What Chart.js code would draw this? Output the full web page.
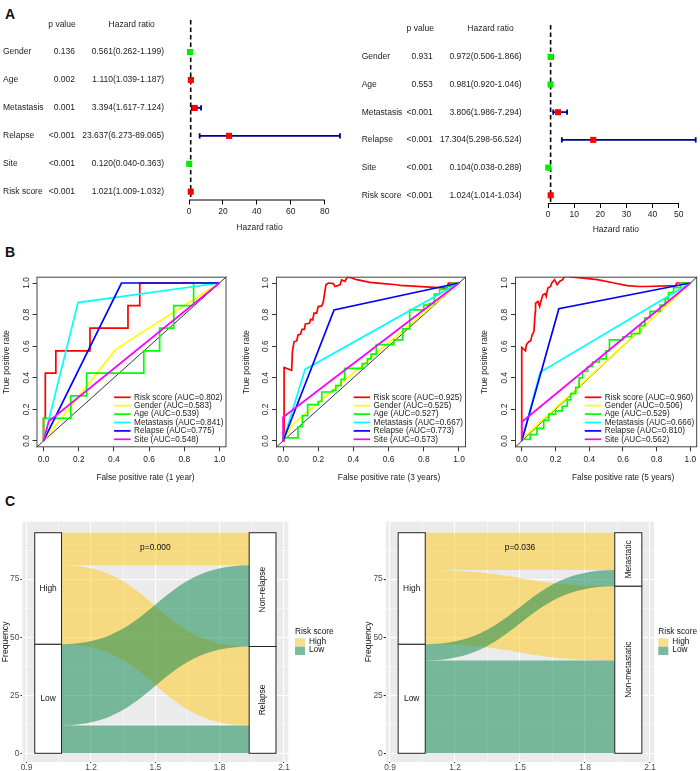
<!DOCTYPE html>
<html>
<head>
<meta charset="utf-8">
<title>Cox regression, ROC and alluvial plots</title>
<script src="https://cdn.jsdelivr.net/npm/chart.js@4.4.1/dist/chart.umd.min.js"></script>
<style>
  body { margin: 0; width: 700px; height: 771px; position: relative; overflow: hidden; background: #fff; font-family: "Liberation Sans", Arial, sans-serif; }
  canvas { position: absolute; }
  .tag { position: absolute; font-size: 14px; line-height: 14px; font-weight: bold; color: #111; }
</style>
</head>
<body>
<div class="tag" style="left:5px;top:7px">A</div>
<div class="tag" style="left:5px;top:245px">B</div>
<div class="tag" style="left:5px;top:494px">C</div>
<canvas id="forestUni" width="350" height="240" style="left:0;top:0"></canvas>
<canvas id="forestMulti" width="350" height="240" style="left:350px;top:0"></canvas>
<canvas id="roc1" width="240" height="250" style="left:0;top:240px"></canvas>
<canvas id="roc3" width="240" height="250" style="left:235px;top:240px"></canvas>
<canvas id="roc5" width="230" height="250" style="left:470px;top:240px"></canvas>
<canvas id="alluvRelapse" width="350" height="281" style="left:0;top:490px"></canvas>
<canvas id="alluvMeta" width="350" height="281" style="left:350px;top:490px"></canvas>
<script>
const FONT = '"Liberation Sans", Arial, sans-serif';
Chart.defaults.font.family = FONT;
Chart.defaults.color = '#222';

// A - cox regression, univariate (left) and multivariate (right)
const coxVars = ['Gender', 'Age', 'Metastasis', 'Relapse', 'Site', 'Risk score'];
const uniP = ['0.136', '0.002', '0.001', '<0.001', '<0.001', '<0.001'];
const uniHR = [0.561, 1.110, 3.394, 23.637, 0.120, 1.021];
const uniLo = [0.262, 1.039, 1.617, 6.273, 0.040, 1.009];
const uniHi = [1.199, 1.187, 7.124, 89.065, 0.363, 1.032];
const uniTicks = [0, 20, 40, 60, 80];
const multiP = ['0.931', '0.553', '<0.001', '<0.001', '<0.001', '<0.001'];
const multiHR = [0.972, 0.981, 3.806, 17.304, 0.104, 1.024];
const multiLo = [0.506, 0.920, 1.986, 5.298, 0.038, 1.014];
const multiHi = [1.866, 1.046, 7.294, 56.524, 0.289, 1.034];
const multiTicks = [0, 10, 20, 30, 40, 50];

// B - ROC curves
const rocVars = ['Risk score', 'Gender', 'Age', 'Metastasis', 'Relapse', 'Site'];
const rocColors = ['#FF0000', '#FFFF00', '#00FF00', '#00FFFF', '#0000FF', '#FF00FF'];
const rocTicks = [0, 0.2, 0.4, 0.6, 0.8, 1.0];
const auc1 = ['0.802', '0.583', '0.539', '0.841', '0.775', '0.548'];
const auc3 = ['0.925', '0.525', '0.527', '0.667', '0.773', '0.573'];
const auc5 = ['0.960', '0.506', '0.529', '0.666', '0.810', '0.562'];

const risk1 = [[0,0],[0,0.143],[0.01,0.143],[0.01,0.429],[0.07,0.429],[0.07,0.571],[0.264,0.571],[0.264,0.714],[0.48,0.714],[0.48,0.857],[0.547,0.857],[0.547,1],[1,1]];
const gender1 = [[0,0],[0.41,0.58],[1,1]];
const age1 = [[0,0],[0,0.143],[0.155,0.143],[0.155,0.286],[0.245,0.286],[0.245,0.429],[0.57,0.429],[0.57,0.571],[0.66,0.571],[0.66,0.714],[0.74,0.714],[0.74,0.857],[0.853,0.857],[0.853,1],[1,1]];
const meta1 = [[0,0],[0.196,0.876],[1,1]];
const relapse1 = [[0,0],[0.443,1],[1,1]];
const site1 = [[0,0],[0.03,0.125],[1,1]];

const risk3 = [[0,0],[0.006,0],[0.006,0.465],[0.049,0.448],[0.053,0.564],[0.0625,0.628],[0.078,0.634],[0.085,0.671],[0.1,0.677],[0.108,0.707],[0.121,0.707],[0.127,0.741],[0.15,0.745],[0.157,0.77],[0.169,0.766],[0.176,0.809],[0.191,0.809],[0.2,0.851],[0.22,0.855],[0.229,0.883],[0.235,0.925],[0.244,0.989],[0.257,1.0],[0.286,0.996],[0.295,0.978],[0.324,0.989],[0.333,1.02],[0.352,1.01],[0.365,1.038],[0.39,1.032],[0.419,1.021],[0.494,1.004],[0.57,0.996],[0.646,0.989],[0.665,0.985],[0.835,0.974],[0.93,0.968],[0.94,1.0],[1,1]];
const gender3 = [[0,0],[0.05,0.1],[1,1]];
const age3 = [[0,0],[0,0.02],[0.085,0.02],[0.085,0.09],[0.11,0.09],[0.11,0.16],[0.14,0.16],[0.14,0.23],[0.2,0.23],[0.2,0.25],[0.22,0.25],[0.22,0.31],[0.28,0.31],[0.28,0.32],[0.3,0.32],[0.3,0.35],[0.33,0.35],[0.33,0.39],[0.35,0.39],[0.35,0.46],[0.45,0.46],[0.45,0.49],[0.48,0.49],[0.48,0.52],[0.5,0.52],[0.5,0.55],[0.53,0.55],[0.53,0.61],[0.63,0.61],[0.63,0.64],[0.68,0.64],[0.68,0.71],[0.72,0.71],[0.72,0.83],[0.8,0.83],[0.8,0.86],[0.83,0.86],[0.83,0.87],[0.86,0.87],[0.86,0.93],[0.89,0.93],[0.89,0.96],[0.93,0.96],[0.93,0.98],[0.96,0.98],[0.96,1],[1,1]];
const meta3 = [[0,0],[0.125,0.453],[1,1]];
const relapse3 = [[0,0],[0.29,0.83],[1,1]];
const site3 = [[0,0],[0,0.15],[1,1]];

const risk5 = [[0,0],[0,0.592],[0.022,0.571],[0.027,0.607],[0.041,0.628],[0.053,0.634],[0.061,0.671],[0.072,0.692],[0.076,0.755],[0.08,0.819],[0.082,0.872],[0.096,0.883],[0.106,0.851],[0.116,0.894],[0.125,0.925],[0.139,0.932],[0.145,0.915],[0.155,0.968],[0.171,0.978],[0.178,1.0],[0.194,1.021],[0.21,0.989],[0.224,1.01],[0.243,1.021],[0.253,1.042],[0.272,1.046],[0.292,1.038],[0.351,1.032],[0.449,1.021],[0.547,1.0],[0.625,0.983],[0.694,0.978],[0.733,0.978],[0.91,0.983],[0.92,1.0],[1,1]];
const gender5 = [[0,0],[0.01,0.02],[1,1]];
const age5 = [[0,0],[0,0.01],[0.05,0.01],[0.05,0.04],[0.09,0.04],[0.09,0.08],[0.13,0.08],[0.13,0.13],[0.16,0.13],[0.16,0.17],[0.2,0.17],[0.2,0.19],[0.24,0.19],[0.24,0.22],[0.27,0.22],[0.27,0.26],[0.29,0.26],[0.29,0.3],[0.32,0.3],[0.32,0.34],[0.34,0.34],[0.34,0.4],[0.36,0.4],[0.36,0.44],[0.39,0.44],[0.39,0.47],[0.42,0.47],[0.42,0.5],[0.46,0.5],[0.46,0.52],[0.5,0.52],[0.5,0.57],[0.52,0.57],[0.52,0.64],[0.6,0.64],[0.6,0.66],[0.65,0.66],[0.65,0.68],[0.7,0.68],[0.7,0.73],[0.73,0.73],[0.73,0.78],[0.76,0.78],[0.76,0.82],[0.82,0.82],[0.82,0.86],[0.85,0.86],[0.85,0.9],[0.87,0.9],[0.87,0.94],[0.9,0.94],[0.9,0.97],[0.94,0.97],[0.94,1],[1,1]];
const meta5 = [[0,0],[0.109,0.435],[1,1]];
const relapse5 = [[0,0],[0.22,0.837],[1,1]];
const site5 = [[0,0],[0,0.12],[1,1]];

// C - alluvial, risk group (left axis) to outcome (right axis)
const riskLevels = ['Low', 'High'];             // bottom to top
const relapseLevels = ['Relapse', 'Non-relapse'];
const relapseFlows = [[12, 35], [34, 14]];      // rows: Low, High
const metaLevels = ['Non-metastatic', 'Metastatic'];
const metaFlows = [[40, 7], [32, 16]];
const alluvXTicks = [0.9, 1.2, 1.5, 1.8, 2.1];
const alluvYTicks = [0, 25, 50, 75];

function setTicks(list) {
  return ax => { ax.ticks = list.map(v => ({ value: v })); };
}

function forestPlot(id, pv, hr, lo, hi, ticks, g) {
  const table = {
    id: 'forestTable',
    beforeDatasetsDraw(chart) {
      const { ctx, chartArea: a, scales: { x, y } } = chart;
      ctx.save();
      ctx.strokeStyle = '#000';
      ctx.lineWidth = 1.6;
      ctx.setLineDash([4.5, 3]);
      ctx.beginPath();
      ctx.moveTo(x.getPixelForValue(1), a.top);
      ctx.lineTo(x.getPixelForValue(1), a.bottom);
      ctx.stroke();
      ctx.setLineDash([]);
      ctx.lineWidth = 1;
      ctx.beginPath();
      ctx.moveTo(x.getPixelForValue(ticks[0]), a.bottom + 0.5);
      ctx.lineTo(x.getPixelForValue(ticks[ticks.length - 1]), a.bottom + 0.5);
      ctx.stroke();
      // confidence intervals
      ctx.strokeStyle = '#00008B';
      ctx.lineWidth = 1.8;
      hr.forEach((v, i) => {
        const py = y.getPixelForValue(i);
        const x0 = x.getPixelForValue(lo[i]), x1 = x.getPixelForValue(hi[i]);
        ctx.beginPath();
        ctx.moveTo(x0, py); ctx.lineTo(x1, py);
        ctx.moveTo(x0, py - 2.6); ctx.lineTo(x0, py + 2.6);
        ctx.moveTo(x1, py - 2.6); ctx.lineTo(x1, py + 2.6);
        ctx.stroke();
      });
      // table on the left
      ctx.fillStyle = '#222';
      ctx.font = '8.5px ' + FONT;
      ctx.textBaseline = 'middle';
      const hy = y.getPixelForValue(-1);
      ctx.textAlign = 'center';
      ctx.fillText('p value', g.pHead, hy);
      ctx.fillText('Hazard ratio', g.hrHead, hy);
      coxVars.forEach((name, i) => {
        const py = y.getPixelForValue(i);
        ctx.textAlign = 'left';
        ctx.fillText(name, g.nameX, py);
        ctx.textAlign = 'right';
        ctx.fillText(pv[i], g.pRight, py);
        ctx.fillText(hr[i].toFixed(3) + '(' + lo[i].toFixed(3) + '-' + hi[i].toFixed(3) + ')', g.hrRight, py);
      });
      ctx.textAlign = 'center';
      ctx.fillText('Hazard ratio', (a.left + a.right) / 2 + g.titleDx, g.titleY);
      ctx.restore();
    }
  };

  new Chart(document.getElementById(id), {
    type: 'scatter',
    data: {
      datasets: [{
        data: hr.map((v, i) => ({ x: v, y: i })),
        pointStyle: 'rect',
        pointRadius: 4.3,
        pointBorderWidth: 0,
        pointBackgroundColor: hr.map(v => v > 1 ? '#FF0000' : '#00EE00'),
        clip: false
      }]
    },
    options: {
      responsive: false,
      animation: false,
      layout: { padding: { left: g.padL, right: g.padR, top: g.padT, bottom: 0 } },
      plugins: { legend: { display: false }, tooltip: { enabled: false } },
      scales: {
        x: {
          type: 'linear', min: 0, max: Math.max(...hi),
          afterBuildTicks: setTicks(ticks),
          afterFit: ax => { ax.height = g.axisH; },
          grid: { drawOnChartArea: false, color: '#000', tickLength: 5 },
          border: { display: false },
          ticks: { autoSkip: false, maxRotation: 0, padding: 2, color: '#222', font: { size: 8.5 } }
        },
        y: { type: 'linear', reverse: true, min: -1.15, max: 5.28, display: false }
      }
    },
    plugins: [table]
  });
}

function rocPlot(id, curves, aucs, period, g) {
  const frame = {
    id: 'rocFrame',
    beforeDatasetsDraw(chart) {
      const { ctx, scales: { x, y } } = chart;
      ctx.save();
      ctx.strokeStyle = '#333';
      ctx.lineWidth = 1;
      ctx.beginPath();
      ctx.moveTo(x.getPixelForValue(x.min), y.getPixelForValue(y.min));
      ctx.lineTo(x.getPixelForValue(x.max), y.getPixelForValue(y.max));
      ctx.stroke();
      ctx.restore();
    },
    afterDatasetsDraw(chart) {
      const { ctx, chartArea: a } = chart;
      const sets = chart.data.datasets;
      ctx.save();
      ctx.strokeStyle = '#444';
      ctx.lineWidth = 1;
      ctx.strokeRect(a.left + 0.5, a.top + 0.5, a.width - 1, a.height - 1);
      ctx.font = '8.2px ' + FONT;
      ctx.textBaseline = 'middle';
      ctx.textAlign = 'left';
      const w = Math.max(...sets.map(d => ctx.measureText(d.label).width));
      const tx = a.right - 3 - w;
      sets.forEach((d, k) => {
        const ly = a.bottom - 8 - (sets.length - 1 - k) * 8.4;
        ctx.strokeStyle = d.borderColor;
        ctx.lineWidth = 1.7;
        ctx.beginPath();
        ctx.moveTo(tx - 20, ly);
        ctx.lineTo(tx - 3.5, ly);
        ctx.stroke();
        ctx.fillStyle = '#222';
        ctx.fillText(d.label, tx, ly);
      });
      ctx.font = '8.3px ' + FONT;
      ctx.textAlign = 'center';
      ctx.fillText('False positive rate (' + period + ')', (a.left + a.right) / 2 + g.titleDx, a.bottom + 30);
      ctx.restore();
    }
  };

  const axisTicks = { autoSkip: false, padding: 3.7, color: '#222', font: { size: 8.4 }, callback: v => v.toFixed(1) };
  new Chart(document.getElementById(id), {
    type: 'scatter',
    data: {
      datasets: rocVars.map((name, i) => ({
        label: name + ' (AUC=' + aucs[i] + ')',
        data: curves[i].map(p => ({ x: p[0], y: p[1] })),
        showLine: true,
        borderColor: rocColors[i],
        borderWidth: 1.7,
        pointRadius: 0,
        tension: 0,
        order: rocVars.length - 1 - i
      }))
    },
    options: {
      responsive: false,
      animation: false,
      layout: { padding: { left: 0, right: g.padR, top: 36.7, bottom: 0 } },
      plugins: { legend: { display: false }, tooltip: { enabled: false } },
      scales: {
        x: {
          type: 'linear', min: -0.04, max: 1.04,
          afterBuildTicks: setTicks(rocTicks),
          afterFit: ax => { ax.height = 42.7; },
          grid: { drawOnChartArea: false, color: '#333', tickLength: 4 },
          border: { display: false },
          ticks: Object.assign({ maxRotation: 0 }, axisTicks)
        },
        y: {
          type: 'linear', min: -0.04, max: 1.04,
          afterBuildTicks: setTicks(rocTicks),
          afterFit: ax => { ax.width = g.yW; },
          grid: { drawOnChartArea: false, color: '#333', tickLength: 4 },
          border: { display: false },
          ticks: Object.assign({}, axisTicks, { minRotation: 90, maxRotation: 90, crossAlign: 'center', padding: 0 }),
          title: { display: true, text: 'True positive rate', color: '#222', font: { size: 8.3 }, padding: { top: g.yTitlePad, bottom: 0 } }
        }
      }
    },
    plugins: [frame]
  });
}

function withMinor(majors, max) {
  const step = majors[1] - majors[0];
  const out = majors.slice();
  majors.forEach(v => { if (v + step / 2 < max) out.push(v + step / 2); });
  return out.sort((a, b) => a - b);
}
function isMajor(majors, v) {
  return majors.some(t => Math.abs(t - v) < 1e-6);
}

function alluvialPlot(id, rightLevels, flows, pText, g) {
  const flowFill = ['rgba(3,131,71,0.5)', 'rgba(255,201,25,0.5)'];   // Low, High
  const keyFill = ['#7BBB9D', '#F8DD8B'];
  const halfW = 0.0625;
  const panel = {
    id: 'alluvial',
    beforeDraw(chart) {
      const { ctx, chartArea: a } = chart;
      ctx.save();
      ctx.fillStyle = '#EBEBEB';
      ctx.fillRect(a.left, a.top, a.width, a.height);
      ctx.restore();
    },
    afterDatasetsDraw(chart) {
      const { ctx, chartArea: a, scales: { x, y } } = chart;
      const py = v => y.getPixelForValue(v);
      // stacking on both axes
      const leftPos = flows.map(() => []);
      let c = 0;
      flows.forEach((row, i) => row.forEach((v, j) => { leftPos[i][j] = [c, c + v]; c += v; }));
      const rightPos = flows.map(() => []);
      c = 0;
      rightLevels.forEach((_, j) => flows.forEach((row, i) => { rightPos[i][j] = [c, c + row[j]]; c += row[j]; }));
      const x0 = x.getPixelForValue(1 + halfW), x1 = x.getPixelForValue(2 - halfW), xm = (x0 + x1) / 2;
      ctx.save();
      [1, 0].forEach(i => flows[i].forEach((v, j) => {
        const [l0, l1] = leftPos[i][j], [r0, r1] = rightPos[i][j];
        ctx.beginPath();
        ctx.moveTo(x0, py(l0));
        ctx.bezierCurveTo(xm, py(l0), xm, py(r0), x1, py(r0));
        ctx.lineTo(x1, py(r1));
        ctx.bezierCurveTo(xm, py(r1), xm, py(l1), x0, py(l1));
        ctx.closePath();
        ctx.fillStyle = flowFill[i];
        ctx.fill();
      }));
      // strata
      const leftTotals = flows.map(row => row.reduce((s, v) => s + v, 0));
      const rightTotals = rightLevels.map((_, j) => flows.reduce((s, row) => s + row[j], 0));
      ctx.font = '8.4px ' + FONT;
      ctx.textAlign = 'center';
      ctx.textBaseline = 'middle';
      const drawStrata = (center, totals, labels, rotate) => {
        let base = 0;
        const xa = x.getPixelForValue(center - halfW), xb = x.getPixelForValue(center + halfW);
        totals.forEach((t, k) => {
          ctx.fillStyle = '#fff';
          ctx.strokeStyle = '#222';
          ctx.lineWidth = 1;
          ctx.fillRect(xa, py(base + t), xb - xa, py(base) - py(base + t));
          ctx.strokeRect(xa, py(base + t), xb - xa, py(base) - py(base + t));
          ctx.fillStyle = '#111';
          const cx = (xa + xb) / 2, cy = py(base + t / 2);
          if (rotate) {
            ctx.save();
            ctx.translate(cx, cy);
            ctx.rotate(-Math.PI / 2);
            ctx.fillText(labels[k], 0, 0);
            ctx.restore();
          } else {
            ctx.fillText(labels[k], cx, cy);
          }
          base += t;
        });
      };
      drawStrata(1, leftTotals, riskLevels, false);
      drawStrata(2, rightTotals, rightLevels, true);
      ctx.fillStyle = '#111';
      ctx.fillText(pText, x.getPixelForValue(1.5), py(88.7));
      // legend
      const lx = g.legendX, cy = (a.top + a.bottom) / 2;
      ctx.textAlign = 'left';
      ctx.font = '8.3px ' + FONT;
      ctx.fillText('Risk score', lx, cy - 9.8);
      [1, 0].forEach((i, k) => {
        ctx.fillStyle = keyFill[i];
        ctx.fillRect(lx, cy - 3.6 + k * 8.4, 10, 8.4);
        ctx.fillStyle = '#111';
        ctx.fillText(riskLevels[i], lx + 14, cy + k * 8.3);
      });
      ctx.restore();
    }
  };

  const gridFor = majors => ({
    color: '#FFFFFF',
    lineWidth: c => (c.tick && isMajor(majors, c.tick.value)) ? 1.1 : 0.5,
    tickColor: c => (c.tick && isMajor(majors, c.tick.value)) ? '#333' : 'rgba(0,0,0,0)',
    tickLength: 2
  });
  new Chart(document.getElementById(id), {
    type: 'scatter',
    data: { datasets: [] },
    options: {
      responsive: false,
      animation: false,
      layout: { padding: { left: 0, right: g.padR, top: 31.7, bottom: 0 } },
      plugins: { legend: { display: false }, tooltip: { enabled: false } },
      scales: {
        x: {
          type: 'linear', min: 0.88, max: 2.12,
          afterBuildTicks: ax => { ax.ticks = withMinor(alluvXTicks, ax.max).map(v => ({ value: v })); },
          afterFit: ax => { ax.height = 9; },
          grid: Object.assign(gridFor(alluvXTicks), { tickLength: 1 }),
          border: { display: false },
          ticks: { autoSkip: false, maxRotation: 0, padding: 0, color: '#4D4D4D', font: { size: 8.4 },
                   callback: v => isMajor(alluvXTicks, v) ? String(v) : '' }
        },
        y: {
          type: 'linear', min: -3.75, max: 99.75,
          afterBuildTicks: ax => { ax.ticks = withMinor(alluvYTicks, ax.max).map(v => ({ value: v })); },
          afterFit: ax => { ax.width = g.yW; },
          grid: gridFor(alluvYTicks),
          border: { display: false },
          ticks: { autoSkip: false, padding: 1, color: '#4D4D4D', font: { size: 8.4 },
                   callback: v => isMajor(alluvYTicks, v) ? String(v) : '' },
          title: { display: true, text: 'Frequency', color: '#111', font: { size: 8.6 }, padding: { top: g.yTitlePad, bottom: 0 } }
        }
      }
    },
    plugins: [panel]
  });
}

forestPlot('forestUni', uniP, uniHR, uniLo, uniHi, uniTicks,
  { padL: 189, padR: 10, padT: 20, axisH: 40.5, nameX: 3, pRight: 75, hrRight: 164, pHead: 62, hrHead: 131.7, titleY: 228, titleDx: -5 });
forestPlot('forestMulti', multiP, multiHR, multiLo, multiHi, multiTicks,
  { padL: 198, padR: 1, padT: 25, axisH: 37, nameX: 11.7, pRight: 82.7, hrRight: 171.7, pHead: 70.3, hrHead: 140.5, titleY: 230, titleDx: -6 });

rocPlot('roc1', [risk1, gender1, age1, meta1, relapse1, site1], auc1, '1 year', { yW: 36.5, padR: 13.5, yTitlePad: 2, titleDx: 14 });
rocPlot('roc3', [risk3, gender3, age3, meta3, relapse3, site3], auc3, '3 years', { yW: 41, padR: 9, yTitlePad: 6.7, titleDx: 18 });
rocPlot('roc5', [risk5, gender5, age5, meta5, relapse5, site5], auc5, '5 years', { yW: 45, padR: 1, yTitlePad: 10, titleDx: 17 });

alluvialPlot('alluvRelapse', relapseLevels, relapseFlows, 'p=0.000', { yW: 22.4, padR: 61.7, yTitlePad: 0, legendX: 295 });
alluvialPlot('alluvMeta', metaLevels, metaFlows, 'p=0.036', { yW: 35.7, padR: 45.7, yTitlePad: 13.3, legendX: 308.3 });
</script>
</body>
</html>
